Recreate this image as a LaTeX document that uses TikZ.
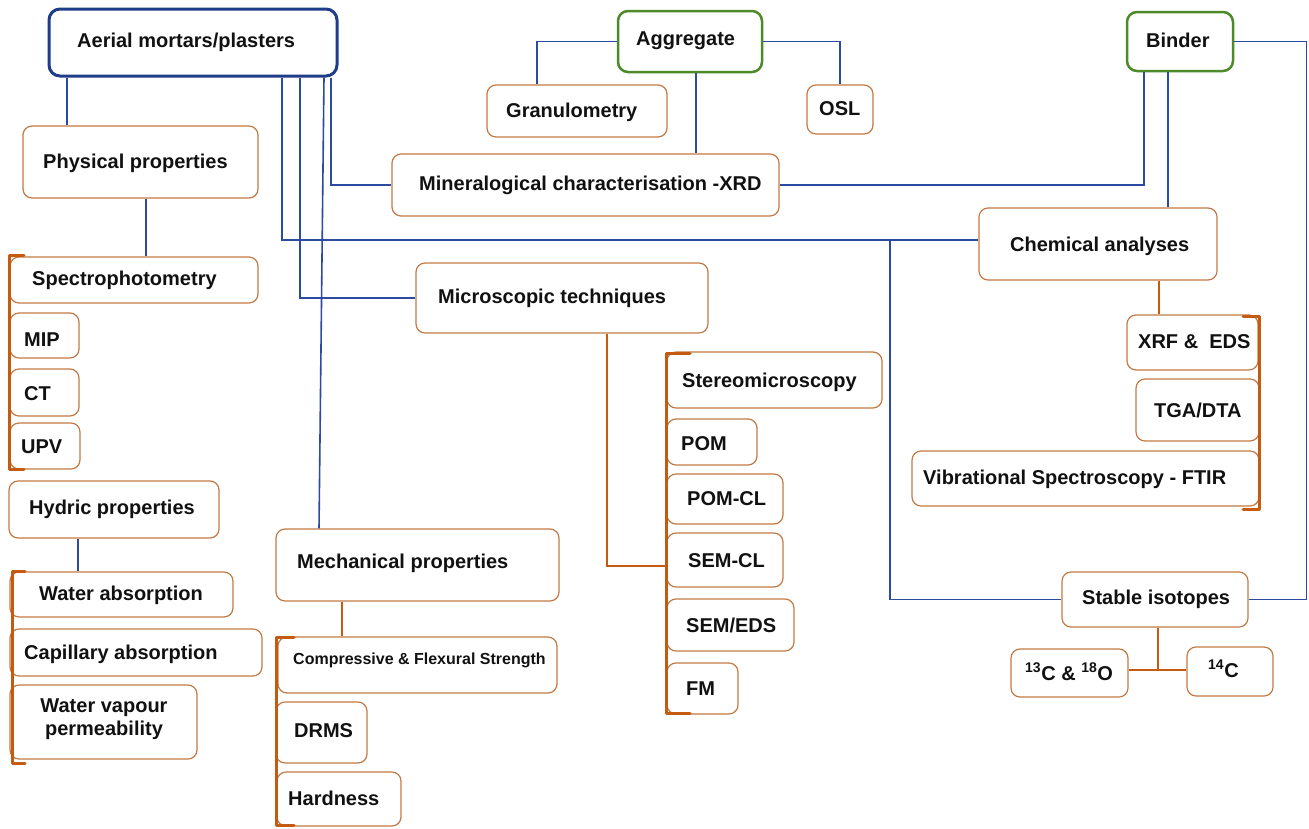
\documentclass[tikz,border=0pt]{standalone}
\usepackage{fontspec}
\setmainfont{Liberation Sans}
\definecolor{navy}{HTML}{1F3C88}
\definecolor{lblue}{HTML}{2B4BA0}
\definecolor{grn}{HTML}{4E8A28}
\definecolor{obox}{HTML}{C47A45}
\definecolor{obr}{HTML}{C55A11}
\definecolor{txtc}{HTML}{111111}
\newcommand\bx[6]{\node[#2, minimum width={(#5-#3)*1pt}, minimum height={(#6-#4)*1pt}] (#1) at ({(#3+#5)/2},{(#4+#6)/2}) {};}
\newcommand\tx[5][txt]{\node[#1] (#2) at (#3,#4) {#5};}
\tikzset{
  box/.style={draw=obox, line width=1.2pt, rounded corners=9pt, inner sep=0pt, fill=white},
  abox/.style={box, draw=navy, line width=3pt, rounded corners=11pt},
  gbox/.style={box, draw=grn, line width=2.5pt, rounded corners=10pt},
  txt/.style={anchor=base west, inner sep=0pt, text=txtc, font=\bfseries\fontsize{20}{24}\selectfont},
  txtsm/.style={txt, font=\bfseries\fontsize{16}{19}\selectfont},
  txtmid/.style={txt, anchor=base},
  bl/.style={draw=lblue, line width=1.6pt},
  or/.style={draw=obr, line width=2pt},
  brk/.style={draw=obr, line width=3pt, line cap=round, line join=round},
}
\begin{document}
\begin{tikzpicture}[x=1pt,y=-1pt]
\fill[white] (0,0) rectangle (1309,828);
\useasboundingbox (0,0) rectangle (1309,828);

% boxes
\bx{aerial}{abox}{49}{9}{337}{76}
\bx{agg}{gbox}{618}{11}{762}{72}
\bx{binder}{gbox}{1127}{12}{1233}{71}
\bx{gran}{box}{487}{85}{667}{137}
\bx{osl}{box}{807}{85}{873}{134}
\bx{phys}{box}{23}{126}{258}{198}
\bx{mineral}{box}{392}{154}{779}{216}
\bx{chem}{box}{979}{208}{1217}{280}
\bx{spec}{box}{10}{257}{258}{303}
\bx{micro}{box}{416}{263}{708}{333}
\bx{mip}{box}{10}{313}{79}{358}
\bx{ct}{box}{10}{369}{79}{416}
\bx{upv}{box}{10}{423}{80}{469}
\bx{xrf}{box}{1127}{315}{1258}{370}
\bx{tga}{box}{1136}{379}{1259}{441}
\bx{stereo}{box}{667}{352}{882}{408}
\bx{pom}{box}{667}{419}{757}{465}
\bx{vib}{box}{912}{451}{1259}{506}
\bx{hydric}{box}{9}{481}{219}{538}
\bx{pomcl}{box}{667}{474}{783}{524}
\bx{mech}{box}{276}{529}{559}{601}
\bx{semcl}{box}{667}{533}{783}{587}
\bx{stable}{box}{1062}{572}{1248}{627}
\bx{wabs}{box}{10}{572}{233}{617}
\bx{semeds}{box}{667}{599}{794}{651}
\bx{comp}{box}{278}{637}{557}{693}
\bx{cap}{box}{10}{629}{262}{676}
\bx{c13}{box}{1011}{649}{1128}{697}
\bx{c14}{box}{1187}{647}{1273}{696}
\bx{fm}{box}{667}{663}{738}{714}
\bx{wvp}{box}{10}{685}{197}{759}
\bx{drms}{box}{276}{702}{367}{763}
\bx{hard}{box}{277}{772}{401}{826}

% texts
\tx{aerial-t}{77}{47}{Aerial mortars/plasters}
\tx{agg-t}{636}{45}{Aggregate}
\tx{binder-t}{1146}{47}{Binder}
\tx{gran-t}{506}{117}{Granulometry}
\tx{osl-t}{819}{115}{OSL}
\tx{mineral-t}{419}{190}{Mineralogical characterisation -XRD}
\tx{phys-t}{43}{168}{Physical properties}
\tx{spec-t}{32}{285}{Spectrophotometry}
\tx{mip-t}{24}{346}{MIP}
\tx{ct-t}{24}{400}{CT}
\tx{upv-t}{21}{453}{UPV}
\tx{hydric-t}{29}{514}{Hydric properties}
\tx{wabs-t}{39}{600}{Water absorption}
\tx{cap-t}{24}{659}{Capillary absorption}
\tx[txtmid]{wvp-t1}{104}{712}{Water vapour}
\tx[txtmid]{wvp-t2}{104}{735}{permeability}
\tx{mech-t}{297}{568}{Mechanical properties}
\tx[txtsm]{comp-t}{293}{664}{Compressive \& Flexural Strength}
\tx{drms-t}{294}{737}{DRMS}
\tx{hard-t}{288}{805}{Hardness}
\tx{micro-t}{438}{303}{Microscopic techniques}
\tx{stereo-t}{682}{387}{Stereomicroscopy}
\tx{pom-t}{681}{450}{POM}
\tx{pomcl-t}{687}{505}{POM-CL}
\tx{semcl-t}{688}{567}{SEM-CL}
\tx{semeds-t}{686}{632}{SEM/EDS}
\tx{fm-t}{686}{695}{FM}
\tx{chem-t}{1010}{251}{Chemical analyses}
\tx{xrf-t}{1138}{348}{XRF \& \ EDS}
\tx{tga-t}{1154}{417}{TGA/DTA}
\tx{vib-t}{923}{484}{Vibrational Spectroscopy - FTIR}
\tx{stable-t}{1082}{604}{Stable isotopes}
\tx{c13-t}{1025}{680}{\textsuperscript{13}C \& \textsuperscript{18}O}
\tx{c14-t}{1208}{677}{\textsuperscript{14}C}

% blue connectors
\draw[bl] ([xshift=-73.5]phys.north) -- ([xshift=-73.5]phys.north |- aerial.south);
\draw[bl] ([xshift=5.5]phys.south) -- ([xshift=5.5]phys.south |- spec.north);
\draw[bl] ([xshift=138]aerial.south) |- (mineral.west);
\draw[bl] ([xshift=89]aerial.south) |- ([yshift=4]chem.west);
\coordinate (j1) at (890,240);
\draw[bl] (j1) |- (stable.west);
\draw[bl] ([xshift=107]aerial.south) |- (micro.west);
\draw[bl] ([xshift=131]aerial.south) -- ([xshift=-98.5]mech.north);
\draw[bl] (agg.west) -| ([xshift=-40]gran.north);
\draw[bl] (agg.east) -| (osl.north);
\draw[bl] ([xshift=6]agg.south) -- ([xshift=6]agg.south |- mineral.north);
\draw[bl] (mineral.east) -| ([xshift=-36]binder.south);
\draw[bl] ([xshift=-12]binder.south) -- ([xshift=-12]binder.south |- chem.north);
\draw[bl] (binder.east) -| ([xshift=58]stable.east) -- (stable.east);
\draw[bl] ([xshift=-36]hydric.south) -- ([xshift=-36]hydric.south |- wabs.north);

% orange connectors
\coordinate (mbrk) at (666,566);
\draw[or] ([xshift=45]micro.south) |- (mbrk);
\draw[or] ([xshift=-75.5]mech.south) -- ([xshift=-75.5]mech.south |- comp.north);
\draw[or] ([xshift=61]chem.south) -- ([xshift=61]chem.south |- xrf.north);
\draw[or] ([xshift=3]stable.south) -- ([xshift=3,yshift=3]stable.south |- c13.east);
\draw[or] ([yshift=3]c13.east) -- ([yshift=3]c13.east -| c14.west);

% brackets
\draw[brk] (24,255) -- (9,255) -- (9,469) -- (24,469);
\draw[brk] (25,571) -- (12,571) -- (12,763) -- (25,763);
\draw[brk] (294,637) -- (276,637) -- (276,825) -- (294,825);
\draw[brk] (690,353) -- (666,353) -- (666,713) -- (690,713);
\draw[brk] (1243,316) -- (1259,316) -- (1259,509) -- (1243,509);
\end{tikzpicture}
\end{document}
